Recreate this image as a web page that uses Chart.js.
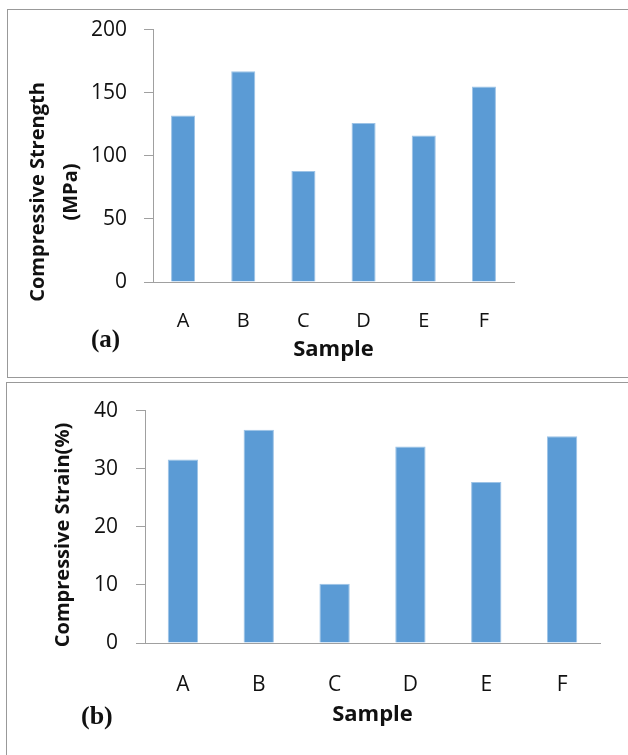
<!DOCTYPE html>
<html lang="en">
<head>
    <meta charset="UTF-8" />
    <title>Compressive Strength and Strain</title>
    <script src="https://cdn.jsdelivr.net/npm/chart.js"></script>
    <style>
        body { margin: 0; width: 628px; height: 755px; overflow: hidden; background: #fff; position: relative; }
        .box { position: absolute; border: 1px solid #999; width: 660px; }
        .tag { position: absolute; font-family: "Liberation Serif", serif; font-weight: bold; color: #111; }
        canvas { position: absolute; left: 0; }
    </style>
</head>
<body>
    <div class="box" style="left:7px; top:9px; height:367px;"></div>
    <div class="box" style="left:6px; top:382px; height:400px;"></div>
    <canvas id="strengthChart" width="628" height="377" style="top:0;"></canvas>
    <canvas id="strainChart" width="628" height="375" style="top:380px;"></canvas>
    <div class="tag" style="left:91px; top:325px; font-size:25px;">(a)</div>
    <div class="tag" style="left:81px; top:701px; font-size:26px;">(b)</div>

    <script>
        const samples = ["A", "B", "C", "D", "E", "F"];
        const strength = [132, 167, 88, 126, 116, 155];   // MPa
        const strain = [31.6, 36.7, 10.2, 33.8, 27.7, 35.6]; // %

        const barFill = "#5b9bd5";
        const barEdge = "#9dc3e6";
        const axisGray = "#a0a0a0";
        const textColor = "#111";

        // y titles sit lower than the plot centre in the original, so draw them here
        const sideTitle = {
            id: 'sideTitle',
            afterDraw(chart, args, o) {
                const ctx = chart.ctx;
                ctx.save();
                ctx.font = `bold ${o.size}px "Open Sans"`;
                ctx.fillStyle = "#111";
                ctx.textAlign = "center";
                ctx.textBaseline = "middle";
                o.lines.forEach((line, i) => {
                    ctx.save();
                    ctx.translate(o.x[i], o.y);
                    ctx.rotate(-Math.PI / 2);
                    ctx.fillText(line, 0, 0);
                    ctx.restore();
                });
                ctx.restore();
            }
        };

        function makeChart(id, values, opts) {
            return new Chart(document.getElementById(id), {
                type: 'bar',
                data: {
                    labels: samples,
                    datasets: [{
                        data: values,
                        backgroundColor: barFill,
                        borderColor: barEdge,
                        borderWidth: 1,
                        categoryPercentage: 1,
                        barPercentage: 0.4
                    }]
                },
                plugins: [sideTitle],
                options: {
                    responsive: false,
                    animation: false,
                    layout: { padding: { left: 0, top: opts.top, right: opts.right, bottom: 0 } },
                    plugins: {
                        legend: { display: false },
                        tooltip: { enabled: false },
                        sideTitle: opts.side
                    },
                    scales: {
                        x: {
                            grid: { display: false },
                            border: { display: true, color: axisGray, width: 1 },
                            ticks: {
                                color: textColor,
                                padding: opts.xTickPad,
                                font: { family: "Open Sans", size: opts.xTickSize }
                            },
                            title: {
                                display: true,
                                text: "Sample",
                                color: "#111",
                                font: { family: "Open Sans", size: 22, weight: "bold", lineHeight: 1.2 },
                                padding: { top: 0, bottom: opts.xTitlePad }
                            },
                            afterFit: (scale) => { scale.height = opts.xHeight; }
                        },
                        y: {
                            min: 0,
                            max: opts.max,
                            ticks: {
                                stepSize: opts.step,
                                color: textColor,
                                padding: opts.yTickPad,
                                font: { family: "Open Sans", size: 21 }
                            },
                            grid: { drawOnChartArea: false, drawTicks: true, tickLength: 9, color: axisGray },
                            border: { display: true, color: axisGray, width: 1 },
                            afterFit: (scale) => { scale.width = opts.yWidth; }
                        }
                    }
                }
            });
        }

        makeChart("strengthChart", strength, {
            top: 29, right: 114, max: 200, step: 50,
            yWidth: 153, yTickPad: 17,
            side: { lines: ["Compressive Strength", "(MPa)"], size: 20, x: [38, 71], y: 192 },
            xHeight: 95, xTickPad: 19, xTickSize: 20, xTitlePad: 14
        });

        makeChart("strainChart", strain, {
            top: 30, right: 28, max: 40, step: 10,
            yWidth: 145, yTickPad: 18,
            side: { lines: ["Compressive Strain(%)"], size: 20, x: [63], y: 155 },
            xHeight: 112, xTickPad: 21, xTickSize: 21, xTitlePad: 27
        });
    </script>
</body>
</html>
